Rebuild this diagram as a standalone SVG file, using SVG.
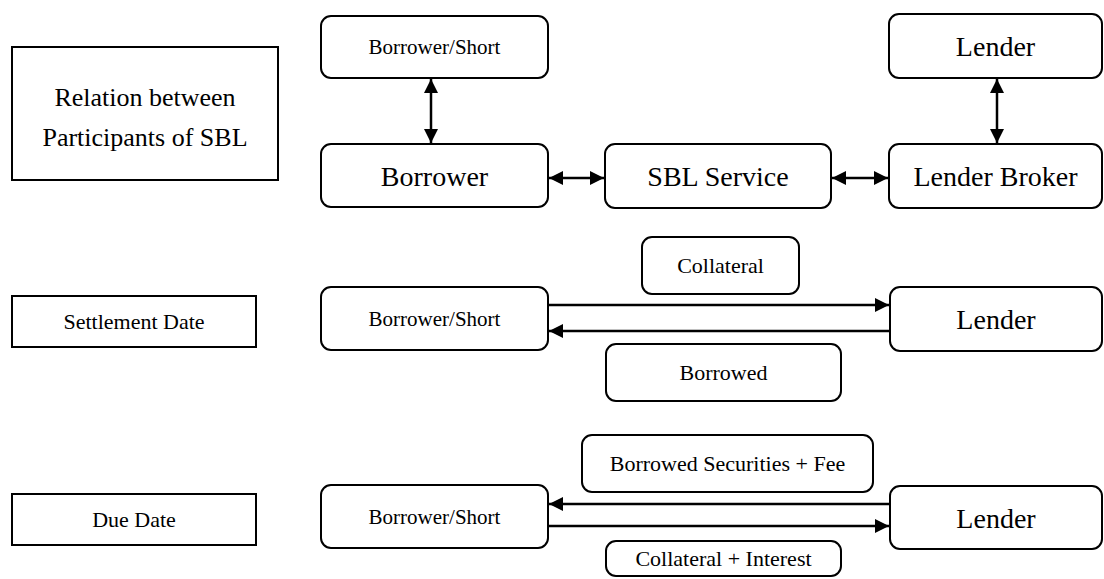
<svg xmlns="http://www.w3.org/2000/svg" width="1104" height="579" viewBox="0 0 1104 579">
<style>
.b{fill:#fff;stroke:#000;stroke-width:2}
.c line{stroke:#000;stroke-width:2.5;fill:none}
</style>
<defs>
<marker id="ah" viewBox="0 0 10 10" refX="10" refY="5" markerUnits="userSpaceOnUse" markerWidth="15" markerHeight="14" orient="auto-start-reverse">
<path d="M0,0 L10,5 L0,10 z" fill="#000"/>
</marker>
</defs>
<rect width="1104" height="579" fill="#fff"/>
<g id="relation"><rect class="b" x="12" y="47" width="266" height="133"/><text style="font-family:'Liberation Serif','Times New Roman',serif !important;font-size:26px" text-anchor="middle" x="145" y="106">Relation between</text><text style="font-family:'Liberation Serif','Times New Roman',serif !important;font-size:26px" text-anchor="middle" x="145" y="146">Participants of SBL</text></g>
<g id="borrower-short-1"><rect class="b" rx="10" x="321" y="16" width="227" height="62"/><text style="font-family:'Liberation Serif','Times New Roman',serif !important;font-size:21px" text-anchor="middle" x="434.5" y="54">Borrower/Short</text></g>
<g id="borrower"><rect class="b" rx="10" x="321" y="144" width="227" height="63"/><text style="font-family:'Liberation Serif','Times New Roman',serif !important;font-size:28px" text-anchor="middle" x="434.5" y="186">Borrower</text></g>
<g id="sbl-service"><rect class="b" rx="10" x="605" y="144" width="226" height="64"/><text style="font-family:'Liberation Serif','Times New Roman',serif !important;font-size:28px" text-anchor="middle" x="718" y="186">SBL Service</text></g>
<g id="lender-broker"><rect class="b" rx="10" x="889" y="144" width="213" height="64"/><text style="font-family:'Liberation Serif','Times New Roman',serif !important;font-size:28px" text-anchor="middle" x="995.5" y="186">Lender Broker</text></g>
<g id="lender-1"><rect class="b" rx="10" x="889" y="14" width="213" height="64"/><text style="font-family:'Liberation Serif','Times New Roman',serif !important;font-size:28px" text-anchor="middle" x="995.5" y="56">Lender</text></g>
<g id="settlement-date"><rect class="b" x="12" y="296" width="244" height="51"/><text style="font-family:'Liberation Serif','Times New Roman',serif !important;font-size:22px" text-anchor="middle" x="134" y="329">Settlement Date</text></g>
<g id="borrower-short-2"><rect class="b" rx="10" x="321" y="287" width="227" height="63"/><text style="font-family:'Liberation Serif','Times New Roman',serif !important;font-size:21px" text-anchor="middle" x="434.5" y="326">Borrower/Short</text></g>
<g id="collateral"><rect class="b" rx="10" x="642" y="237" width="157" height="57"/><text style="font-family:'Liberation Serif','Times New Roman',serif !important;font-size:22px" text-anchor="middle" x="720.5" y="273">Collateral</text></g>
<g id="lender-2"><rect class="b" rx="10" x="890" y="287" width="212" height="64"/><text style="font-family:'Liberation Serif','Times New Roman',serif !important;font-size:28px" text-anchor="middle" x="996" y="329">Lender</text></g>
<g id="borrowed"><rect class="b" rx="10" x="606" y="344" width="235" height="57"/><text style="font-family:'Liberation Serif','Times New Roman',serif !important;font-size:22px" text-anchor="middle" x="723.5" y="380">Borrowed</text></g>
<g id="due-date"><rect class="b" x="12" y="494" width="244" height="51"/><text style="font-family:'Liberation Serif','Times New Roman',serif !important;font-size:22px" text-anchor="middle" x="134" y="527">Due Date</text></g>
<g id="borrower-short-3"><rect class="b" rx="10" x="321" y="485" width="227" height="63"/><text style="font-family:'Liberation Serif','Times New Roman',serif !important;font-size:21px" text-anchor="middle" x="434.5" y="524">Borrower/Short</text></g>
<g id="borrowed-securities-fee"><rect class="b" rx="10" x="582" y="435" width="291" height="57"/><text style="font-family:'Liberation Serif','Times New Roman',serif !important;font-size:22px" text-anchor="middle" x="727.5" y="471">Borrowed Securities + Fee</text></g>
<g id="lender-3"><rect class="b" rx="10" x="890" y="486" width="212" height="63"/><text style="font-family:'Liberation Serif','Times New Roman',serif !important;font-size:28px" text-anchor="middle" x="996" y="528">Lender</text></g>
<g id="collateral-interest"><rect class="b" rx="10" x="606" y="541" width="235" height="35"/><text style="font-family:'Liberation Serif','Times New Roman',serif !important;font-size:22px" text-anchor="middle" x="723.5" y="566">Collateral + Interest</text></g>
<g id="connectors" class="c">
<line x1="431" y1="79" x2="431" y2="143" marker-start="url(#ah)" marker-end="url(#ah)"/>
<line x1="997" y1="79" x2="997" y2="143" marker-start="url(#ah)" marker-end="url(#ah)"/>
<line x1="549" y1="178" x2="604" y2="178" marker-start="url(#ah)" marker-end="url(#ah)"/>
<line x1="832" y1="178" x2="888" y2="178" marker-start="url(#ah)" marker-end="url(#ah)"/>
<line x1="548" y1="305" x2="889" y2="305" marker-end="url(#ah)"/>
<line x1="890" y1="331" x2="549" y2="331" marker-end="url(#ah)"/>
<line x1="890" y1="504" x2="549" y2="504" marker-end="url(#ah)"/>
<line x1="548" y1="526" x2="889" y2="526" marker-end="url(#ah)"/>
</g>
</svg>
